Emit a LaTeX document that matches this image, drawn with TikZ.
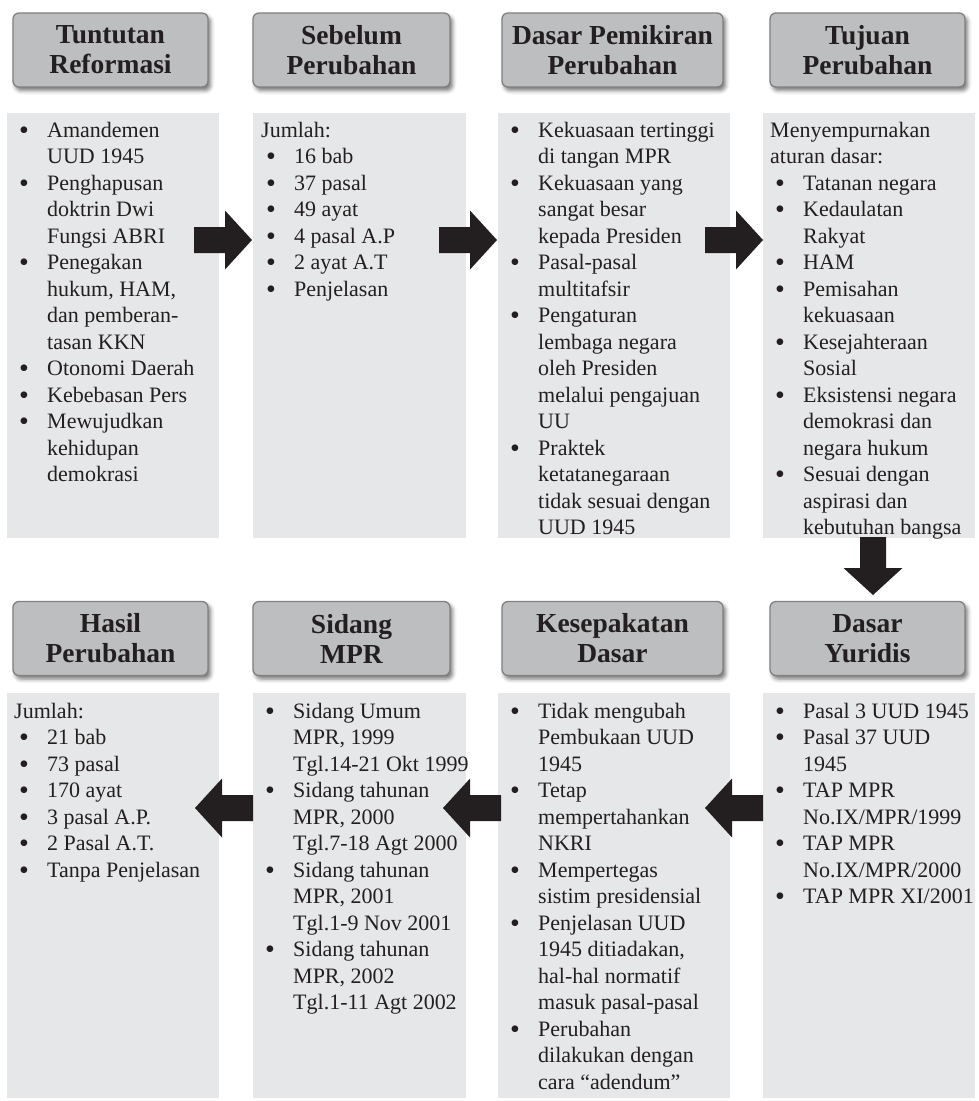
\documentclass[tikz,border=0pt]{standalone}
\usepackage{fontspec}
\setmainfont{Liberation Serif}
\usetikzlibrary{shadows.blur}
\definecolor{bodyfill}{HTML}{E6E7E8}
\definecolor{hdrfill}{HTML}{BCBEC0}
\definecolor{ink}{HTML}{231F20}
\newcommand\bdot{\raisebox{-2pt}{\fontsize{28}{28}\selectfont\textbullet}}
\newcommand\itm[1]{\hbox{\hspace*{5pt}\makebox[28pt][l]{\bdot}#1}}
\newcommand\cnt[1]{\hbox{\hspace*{33pt}#1}}
\newcommand\pln[1]{\hbox{#1}}
\newcommand\lines[1]{\vtop{\fontsize{22}{26.5}\selectfont #1}}
\tikzset{
  hdr/.style={rounded corners=6pt, fill=hdrfill, draw=black!50, line width=1.3pt,
    blur shadow={shadow xshift=2.5pt, shadow yshift=-3.5pt, shadow blur radius=4pt, shadow opacity=55},
    minimum height=74pt, inner sep=0pt, text=ink, align=center,
    font=\fontsize{27.5}{30}\selectfont\bfseries},
  body/.style={fill=bodyfill, draw=none, inner sep=0pt, anchor=north west},
  txt/.style={anchor=base west, inner sep=0pt, text=ink},
  arrowcol/.style={fill=ink},
  rarrow/.pic={\fill[arrowcol] (-58,-13) -- (-27,-13) -- (-27,-29.5) -- (0,0) -- (-27,29.5) -- (-27,13) -- (-58,13) -- cycle;}
}
\begin{document}
\begin{tikzpicture}[x=1pt,y=-1pt]
\useasboundingbox (0,0) rectangle (978,1101);
% ---------- top row ----------
\node[hdr, minimum width=195pt] (h1) at (110.5,50) {Tuntutan\\Reformasi};
\node[hdr, minimum width=197pt] (h2) at (351.5,50) {Sebelum\\Perubahan};
\node[hdr, minimum width=221pt] (h3) at (612.5,50) {Dasar Pemikiran\\Perubahan};
\node[hdr, minimum width=195pt] (h4) at (867.5,50) {Tujuan\\Perubahan};

\node[body, minimum width=212pt, minimum height=425pt] (b1) at (7,113) {};
\node[body, minimum width=213pt, minimum height=425pt] (b2) at (253,113) {};
\node[body, minimum width=232pt, minimum height=425pt] (b3) at (498,113) {};
\node[body, minimum width=212pt, minimum height=425pt] (b4) at (763,113) {};

\node[txt] (t1) at (14,137) {\lines{%
\itm{Amandemen}\cnt{UUD 1945}%
\itm{Penghapusan}\cnt{doktrin Dwi}\cnt{Fungsi ABRI}%
\itm{Penegakan}\cnt{hukum, HAM,}\cnt{dan pemberan-}\cnt{tasan KKN}%
\itm{Otonomi Daerah}%
\itm{Kebebasan Pers}%
\itm{Mewujudkan}\cnt{kehidupan}\cnt{demokrasi}}};

\node[txt] (t2) at (261,137) {\lines{%
\pln{Jumlah:}%
\itm{16 bab}\itm{37 pasal}\itm{49 ayat}\itm{4 pasal A.P}\itm{2 ayat A.T}\itm{Penjelasan}}};

\node[txt] (t3) at (505,137) {\lines{%
\itm{Kekuasaan tertinggi}\cnt{di tangan MPR}%
\itm{Kekuasaan yang}\cnt{sangat besar}\cnt{kepada Presiden}%
\itm{Pasal-pasal}\cnt{multitafsir}%
\itm{Pengaturan}\cnt{lembaga negara}\cnt{oleh Presiden}\cnt{melalui pengajuan}\cnt{UU}%
\itm{Praktek}\cnt{ketatanegaraan}\cnt{tidak sesuai dengan}\cnt{UUD 1945}}};

\node[txt] (t4) at (770,137) {\lines{%
\pln{Menyempurnakan}\pln{aturan dasar:}%
\itm{Tatanan negara}%
\itm{Kedaulatan}\cnt{Rakyat}%
\itm{HAM}%
\itm{Pemisahan}\cnt{kekuasaan}%
\itm{Kesejahteraan}\cnt{Sosial}%
\itm{Eksistensi negara}\cnt{demokrasi dan}\cnt{negara hukum}%
\itm{Sesuai dengan}\cnt{aspirasi dan}\cnt{kebutuhan bangsa}}};

% ---------- bottom row ----------
\node[hdr, minimum width=195pt] (h5) at (110.5,638.5) {Hasil\\Perubahan};
\node[hdr, minimum width=197pt] (h6) at (351.5,638.5) {Sidang\\MPR};
\node[hdr, minimum width=221pt] (h7) at (612.5,638.5) {Kesepakatan\\Dasar};
\node[hdr, minimum width=195pt] (h8) at (867.5,638.5) {Dasar\\Yuridis};

\node[body, minimum width=212pt, minimum height=405pt] (b5) at (7,693) {};
\node[body, minimum width=213pt, minimum height=405pt] (b6) at (253,693) {};
\node[body, minimum width=232pt, minimum height=405pt] (b7) at (498,693) {};
\node[body, minimum width=212pt, minimum height=405pt] (b8) at (763,693) {};

\node[txt] (t5) at (14,718) {\lines{%
\pln{Jumlah:}%
\itm{21 bab}\itm{73 pasal}\itm{170 ayat}\itm{3 pasal A.P.}\itm{2 Pasal A.T.}\itm{Tanpa Penjelasan}}};

\node[txt] (t6) at (260,718) {\lines{%
\itm{Sidang Umum}\cnt{MPR, 1999}\cnt{Tgl.14-21 Okt 1999}%
\itm{Sidang tahunan}\cnt{MPR, 2000}\cnt{Tgl.7-18 Agt 2000}%
\itm{Sidang tahunan}\cnt{MPR, 2001}\cnt{Tgl.1-9 Nov 2001}%
\itm{Sidang tahunan}\cnt{MPR, 2002}\cnt{Tgl.1-11 Agt 2002}}};

\node[txt] (t7) at (505,718) {\lines{%
\itm{Tidak mengubah}\cnt{Pembukaan UUD}\cnt{1945}%
\itm{Tetap}\cnt{mempertahankan}\cnt{NKRI}%
\itm{Mempertegas}\cnt{sistim presidensial}%
\itm{Penjelasan UUD}\cnt{1945 ditiadakan,}\cnt{hal-hal normatif}\cnt{masuk pasal-pasal}%
\itm{Perubahan}\cnt{dilakukan dengan}\cnt{cara “adendum”}}};

\node[txt] (t8) at (770,718) {\lines{%
\itm{Pasal 3 UUD 1945}%
\itm{Pasal 37 UUD}\cnt{1945}%
\itm{TAP MPR}\cnt{No.IX/MPR/1999}%
\itm{TAP MPR}\cnt{No.IX/MPR/2000}%
\itm{TAP MPR XI/2001}}};

% ---------- block arrows ----------
\pic at (252,240) {rarrow};
\pic at (497,240) {rarrow};
\pic at (763,240) {rarrow};
\pic[rotate=-90] at (873,595) {rarrow};
\pic[xscale=-1] at (705,808) {rarrow};
\pic[xscale=-1] at (443,808) {rarrow};
\pic[xscale=-1] at (195,808) {rarrow};
\end{tikzpicture}
\end{document}
